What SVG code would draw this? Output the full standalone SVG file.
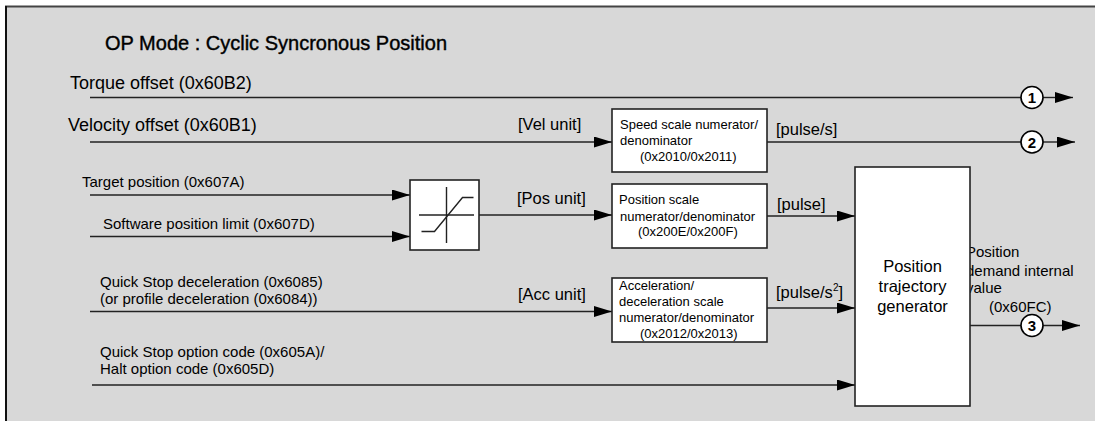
<svg xmlns="http://www.w3.org/2000/svg" width="1095" height="421" viewBox="0 0 1095 421">
<defs>
<marker id="ah" viewBox="0 0 18 11" refX="18" refY="5.5" markerWidth="18" markerHeight="11" markerUnits="userSpaceOnUse" orient="auto">
<path d="M0,0 L18,5.5 L0,11 Z" fill="#000"/>
</marker>
<style>
text{font-family:"Liberation Sans",Arial,sans-serif;fill:#000}
.ln{stroke:#222;stroke-width:1.4;fill:none}
.ar{stroke:#222;stroke-width:1.4;fill:none;marker-end:url(#ah)}
.box{fill:#fff;stroke:#222;stroke-width:1.6}
.big{font-size:18px}
.mid{font-size:15px}
.unit{font-size:16.5px}
.sm{font-size:13px}
.circ{fill:#fff;stroke:#000;stroke-width:1.6}
.num{font-size:15px;font-weight:bold;text-anchor:middle}
</style>
</defs>
<rect x="0" y="0" width="1095" height="421" fill="#fff"/>
<rect x="6" y="7" width="1095" height="420" fill="#d8d8d8"/>
<line x1="5" y1="6.5" x2="1095" y2="6.5" stroke="#444" stroke-width="2"/>
<line x1="6" y1="6" x2="6" y2="421" stroke="#111" stroke-width="2"/>
<text x="105" y="50" style="font-size:20px;stroke:#000;stroke-width:0.4">OP Mode : Cyclic Syncronous Position</text>

<g id="labels">
<text class="big" x="70" y="89">Torque offset (0x60B2)</text>
<text class="big" x="68" y="131">Velocity offset (0x60B1)</text>
<text class="mid" x="82" y="187">Target position (0x607A)</text>
<text class="mid" x="103" y="229">Software position limit (0x607D)</text>
<text class="mid" x="100" y="287">Quick Stop deceleration (0x6085)</text>
<text class="mid" x="100" y="304">(or profile deceleration (0x6084))</text>
<text class="mid" x="100" y="357">Quick Stop option code (0x605A)/</text>
<text class="mid" x="100" y="374">Halt option code (0x605D)</text>
<text class="unit" x="518" y="130">[Vel unit]</text>
<text class="unit" x="517" y="204">[Pos unit]</text>
<text class="unit" x="518" y="300">[Acc unit]</text>
<text class="unit" x="776" y="135">[pulse/s]</text>
<text class="unit" x="777" y="210">[pulse]</text>
<text class="unit" x="776" y="298">[pulse/s<tspan dy="-7" style="font-size:10px">2</tspan><tspan dy="7">]</tspan></text>
<text class="mid" x="966" y="257">Position</text>
<text class="mid" x="966" y="276">demand internal</text>
<text class="mid" x="966" y="293">value</text>
<text class="mid" x="989" y="312">(0x60FC)</text>
</g>

<g id="connectors">
<line class="ln" x1="90" y1="97.5" x2="1021" y2="97.5"/>
<line class="ar" x1="1043" y1="97.5" x2="1073" y2="97.5"/>
<line class="ar" x1="90" y1="142" x2="612" y2="142"/>
<line class="ln" x1="767" y1="142" x2="1021" y2="142"/>
<line class="ar" x1="1043" y1="142" x2="1075" y2="142"/>
<line class="ar" x1="90" y1="195" x2="410" y2="195"/>
<line class="ar" x1="90" y1="236.5" x2="410" y2="236.5"/>
<line class="ar" x1="479" y1="215" x2="612" y2="215"/>
<line class="ar" x1="767" y1="216" x2="855" y2="216"/>
<line class="ar" x1="90" y1="311.5" x2="612" y2="311.5"/>
<line class="ar" x1="767" y1="308" x2="855" y2="308"/>
<line class="ar" x1="92" y1="385" x2="855" y2="385"/>
<line class="ln" x1="970" y1="325.5" x2="1021" y2="325.5"/>
<line class="ar" x1="1043" y1="325.5" x2="1080" y2="325.5"/>
</g>

<g id="limiter">
<rect class="box" x="410" y="180" width="69" height="70"/>
<line class="ln" x1="446.5" y1="187" x2="446.5" y2="243"/>
<line class="ln" x1="419" y1="215" x2="474" y2="215"/>
<polyline class="ln" points="421.5,231.5 434.5,231.5 462.5,197.5 473.5,197.5"/>
</g>

<g id="speed-scale">
<rect class="box" x="612" y="109" width="155" height="63"/>
<text class="sm" x="620" y="129">Speed scale numerator/</text>
<text class="sm" x="620" y="145">denominator</text>
<text class="sm" x="640" y="161">(0x2010/0x2011)</text>
</g>

<g id="position-scale">
<rect class="box" x="612" y="184" width="155" height="64"/>
<text class="sm" x="619" y="204">Position scale</text>
<text class="sm" x="620" y="221">numerator/denominator</text>
<text class="sm" x="638" y="236">(0x200E/0x200F)</text>
</g>

<g id="acc-scale">
<rect class="box" x="612" y="278" width="155" height="64"/>
<text class="sm" x="619" y="290">Acceleration/</text>
<text class="sm" x="619" y="306">deceleration scale</text>
<text class="sm" x="619" y="322">numerator/denominator</text>
<text class="sm" x="640" y="338">(0x2012/0x2013)</text>
</g>

<g id="trajectory-generator">
<rect class="box" x="855" y="167" width="115" height="239"/>
<text x="912.5" y="272" style="font-size:16.5px;text-anchor:middle">Position</text>
<text x="912.5" y="292" style="font-size:16.5px;text-anchor:middle">trajectory</text>
<text x="912.5" y="312" style="font-size:16.5px;text-anchor:middle">generator</text>
</g>

<g id="out1">
<circle class="circ" cx="1032" cy="97.5" r="11"/>
<text class="num" x="1032" y="103">1</text>
</g>
<g id="out2">
<circle class="circ" cx="1032" cy="142" r="11"/>
<text class="num" x="1032" y="147.5">2</text>
</g>
<g id="out3">
<circle class="circ" cx="1032" cy="325.5" r="11"/>
<text class="num" x="1032" y="331">3</text>
</g>
</svg>
